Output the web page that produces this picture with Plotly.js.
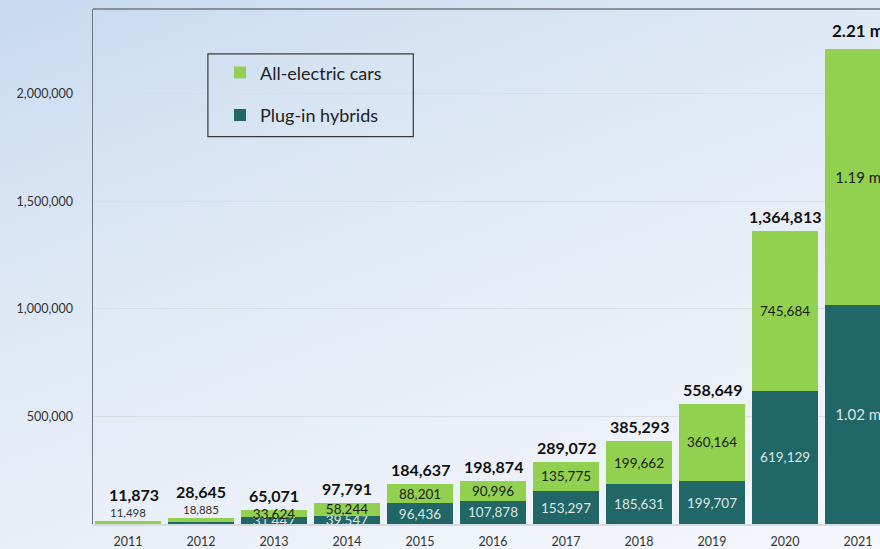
<!DOCTYPE html>
<html>
<head>
<meta charset="utf-8">
<script src="https://cdn.plot.ly/plotly-3.0.1.min.js"></script>
<style>
  html, body { margin:0; padding:0; }
  #chart { width:880px; height:549px;
    background: linear-gradient(160deg, #c7daf0 0%, #dbe6f4 30%, #e8eef8 60%, #f5f8fc 100%); }
</style>
</head>
<body>
<div id="chart"></div>
<script>
const years = ['2011','2012','2013','2014','2015','2016','2017','2018','2019','2020','2021'];
const allElectric = [11498, 18885, 33624, 58244, 88201, 90996, 135775, 199662, 360164, 745684, 1190000];
const plugInHybrids = [375, 9760, 31447, 39547, 96436, 107878, 153297, 185631, 199707, 619129, 1020000];
const allElectricLabels = ['', '', '33,624', '58,244', '88,201', '90,996', '135,775', '199,662', '360,164', '745,684', '1.19 m'];
const plugInLabels = ['', '', '31,447', '39,547', '96,436', '107,878', '153,297', '185,631', '199,707', '619,129', '1.02 m'];
const totalLabels = ['11,873', '28,645', '65,071', '97,791', '184,637', '198,874', '289,072', '385,293', '558,649', '1,364,813', '2.21 m'];
const smallLabels = ['11,498', '18,885']; // labels drawn above the thin bars of 2011 and 2012
const yTickVals = [500000, 1000000, 1500000, 2000000];
const yTickText = ['500,000', '1,000,000', '1,500,000', '2,000,000'];

const FONT = 'Lato, "Open Sans", sans-serif';
const GREEN = '#92d050';
const TEAL = '#216767';

const last = years.length - 1;
const totals = years.map((y, i) => allElectric[i] + plugInHybrids[i]);
const segSizes = years.map((y, i) => (i === last ? 15 : 13.5));

const traces = [
  {
    type: 'bar', name: 'Plug-in hybrids', x: years, y: plugInHybrids,
    marker: { color: TEAL }, text: plugInLabels, textposition: 'inside',
    insidetextanchor: 'middle', constraintext: 'none',
    textfont: { family: FONT, size: segSizes, color: '#dde6e6' },
    hoverinfo: 'skip', legendgroup: 'b', legendrank: 2
  },
  {
    type: 'bar', name: 'All-electric cars', x: years, y: allElectric,
    marker: { color: GREEN }, text: allElectricLabels, textposition: 'inside',
    insidetextanchor: 'middle', constraintext: 'none',
    textfont: { family: FONT, size: segSizes, color: '#1c1c1c' },
    hoverinfo: 'skip', legendgroup: 'a', legendrank: 1
  }
];

const annotations = [];
years.forEach((yr, i) => {
  const small = i < smallLabels.length;
  annotations.push({
    x: i, y: totals[i], xref: 'x', yref: 'y', text: '<b>' + totalLabels[i] + '</b>',
    showarrow: false, yanchor: 'bottom', yshift: small ? 15 : (i === last ? 6 : 3),
    xshift: i === 0 ? 6 : 0,
    font: { family: FONT, size: i === last ? 17 : 16, color: '#111' }
  });
  if (small) {
    annotations.push({
      x: i, y: totals[i], xref: 'x', yref: 'y', text: smallLabels[i],
      showarrow: false, yanchor: 'bottom', yshift: 0,
      font: { family: FONT, size: 11.5, color: '#333' }
    });
  }
});

const layout = {
  width: 880, height: 549,
  margin: { l: 93, r: 0, t: 9, b: 25 },
  paper_bgcolor: 'rgba(0,0,0,0)', plot_bgcolor: 'rgba(0,0,0,0)',
  barmode: 'stack', bargap: 0.09,
  font: { family: FONT, color: '#333' },
  xaxis: {
    type: 'category', range: [-0.48, 10.3],
    showline: true, linecolor: '#d6dbe2', linewidth: 1.5,
    showgrid: false, ticks: 'outside', ticklen: 5, tickcolor: 'rgba(0,0,0,0)',
    tickfont: { family: FONT, size: 12.5, color: '#333' },
    fixedrange: true
  },
  yaxis: {
    range: [0, 2395000], tickvals: yTickVals, ticktext: yTickText,
    showgrid: true, gridcolor: '#d9dde3', gridwidth: 1,
    showline: true, linecolor: '#70767e', linewidth: 1.5,
    zeroline: false, ticks: 'outside', ticklen: 16, tickcolor: 'rgba(0,0,0,0)',
    tickfont: { family: FONT, size: 12.5, color: '#333' },
    fixedrange: true
  },
  showlegend: true,
  legend: {
    x: 0.1614, y: 0.912, xanchor: 'left', yanchor: 'top',
    traceorder: 'grouped', tracegroupgap: 16,
    bgcolor: 'rgba(0,0,0,0)', borderwidth: 0,
    font: { family: FONT, size: 18, color: '#222' },
    itemwidth: 30
  },
  shapes: [
    { type: 'line', xref: 'paper', yref: 'paper', x0: 0, x1: 1, y0: 1, y1: 1,
      line: { color: '#70767e', width: 1.5 } },
    { type: 'rect', xref: 'paper', yref: 'paper', x0: 0.146, x1: 0.407, y0: 0.752, y1: 0.913,
      line: { color: '#3a3a3a', width: 1.2 }, fillcolor: 'rgba(0,0,0,0)' }
  ],
  annotations: annotations
};

Plotly.newPlot('chart', traces, layout, { displayModeBar: false, staticPlot: true });
</script>
</body>
</html>
